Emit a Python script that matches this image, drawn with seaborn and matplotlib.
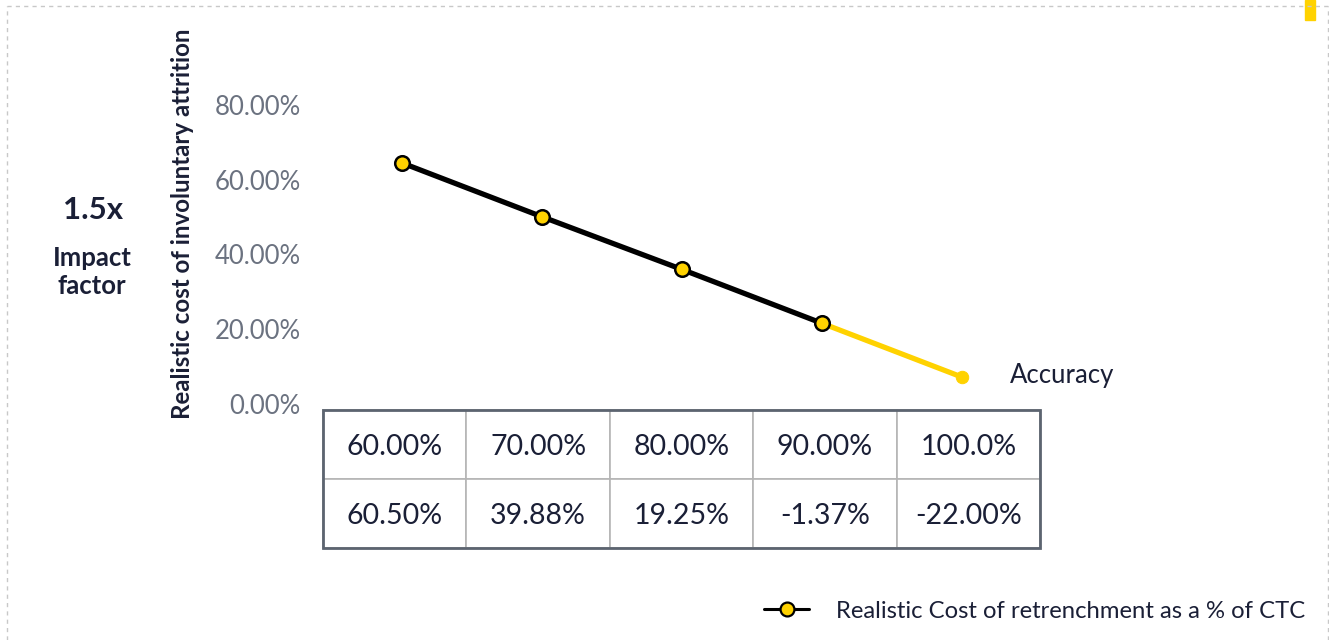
import matplotlib
matplotlib.use("Agg")
import matplotlib.pyplot as plt
from matplotlib.lines import Line2D
from matplotlib.patches import Rectangle
import seaborn as sns
import pandas as pd

# data
accuracy = [60, 70, 80, 90, 100]
cost = [64.5, 50.1, 36.0, 21.6, 7.2]
accuracy_labels = ["60.00%", "70.00%", "80.00%", "90.00%", "100.0%"]
cost_labels = ["60.50%", "39.88%", "19.25%", "-1.37%", "-22.00%"]
y_ticks = [0, 20, 40, 60, 80]

YELLOW = "#FFD200"
NAVY = "#1a1f36"
GREY = "#6b7280"

sns.set_theme(style="white")
plt.rcParams["font.family"] = ["Lato", "DejaVu Sans"]

W, H = 1329, 640
fig = plt.figure(figsize=(W / 100, H / 100), dpi=100)

# main axes: left 323px .. right 1040px, y from 404px (0%) to 105px (80%)
ax = fig.add_axes([323 / W, (H - 404) / H, (1040 - 323) / W, (404 - 105) / H])
df = pd.DataFrame({"accuracy": accuracy, "cost": cost})

sns.lineplot(data=df.iloc[3:], x="accuracy", y="cost", color=YELLOW, lw=3.8, ax=ax,
             solid_capstyle="round")
sns.lineplot(data=df.iloc[:4], x="accuracy", y="cost", color="black", lw=3.8, ax=ax,
             solid_capstyle="round")
sns.scatterplot(data=df.iloc[:4], x="accuracy", y="cost", color=YELLOW, edgecolor="black",
                linewidth=1.8, s=110, zorder=5, ax=ax)
sns.scatterplot(data=df.iloc[4:], x="accuracy", y="cost", color=YELLOW, edgecolor=YELLOW,
                s=80, zorder=5, ax=ax)

ax.set_xlim(60 - 79 / 14, 100 + 78 / 14)
ax.set_ylim(0, 80)
ax.set_yticks(y_ticks)
ax.set_yticklabels([f"{v:.2f}%" for v in y_ticks], color=GREY, fontsize=18.5)
ax.tick_params(axis="y", length=0, pad=16)
ax.set_xticks([])
ax.set_xlabel("")
ax.set_ylabel("")
for s in ax.spines.values():
    s.set_visible(False)

ax.text(1010 / W, (H - 375) / H, "Accuracy", transform=fig.transFigure, fontsize=18.5,
        color=NAVY, va="center", ha="left")

# y label and side texts
fig.text(183 / W, (H - 224) / H, "Realistic cost of involuntary attrition", rotation=90,
         fontsize=17.4, fontweight="bold", color=NAVY, ha="center", va="center")
fig.text(93 / W, (H - 210) / H, "1.5x", fontsize=22.5, fontweight="bold", color=NAVY,
         ha="center", va="center")
fig.text(92 / W, (H - 272) / H, "Impact\nfactor", fontsize=18.5, fontweight="bold", color=NAVY,
         ha="center", va="center", linespacing=1.15)

# table below the chart
tax = fig.add_axes([323 / W, (H - 548) / H, (1040 - 323) / W, (548 - 410) / H])
tax.axis("off")
tbl = tax.table(cellText=[accuracy_labels, cost_labels], cellLoc="center", bbox=[0, 0, 1, 1])
tbl.auto_set_font_size(False)
for (r, c), cell in tbl.get_celld().items():
    cell.set_edgecolor("#b5b5b5")
    cell.set_linewidth(1.2)
    cell.get_text().set_fontsize(20.5)
    cell.get_text().set_color(NAVY)
    cell.get_text().set_va("center_baseline")
tax.add_patch(Rectangle((0, 0), 1, 1, transform=tax.transAxes, fill=False,
                        edgecolor="#5c6470", lw=2, zorder=10, clip_on=False))

# legend
handle = Line2D([], [], color="black", lw=2.2, marker="o", markersize=10,
                markerfacecolor=YELLOW, markeredgecolor="black", markeredgewidth=1.6)
fig.legend([handle], ["Realistic Cost of retrenchment as a % of CTC"],
           loc="center right", bbox_to_anchor=(1305 / W, (H - 611) / H), frameon=False,
           fontsize=17.2, handlelength=1.9, handletextpad=1.1, labelcolor=NAVY,
           borderaxespad=0, borderpad=0)

# dashed frame and yellow corner tab
frame = dict(color="#c8c8c8", lw=1, ls=(0, (3, 3)), transform=fig.transFigure)
fig.add_artist(Line2D([7 / W, 1328 / W], [(H - 6) / H, (H - 6) / H], **frame))
fig.add_artist(Line2D([7 / W, 7 / W], [0, (H - 6) / H], **frame))
fig.add_artist(Line2D([1328 / W, 1328 / W], [0, (H - 6) / H], **frame))
fig.add_artist(Rectangle((1305 / W, (H - 20) / H), 10 / W, 20 / H, color=YELLOW,
                         transform=fig.transFigure))

fig.savefig("out.png", dpi=100)
